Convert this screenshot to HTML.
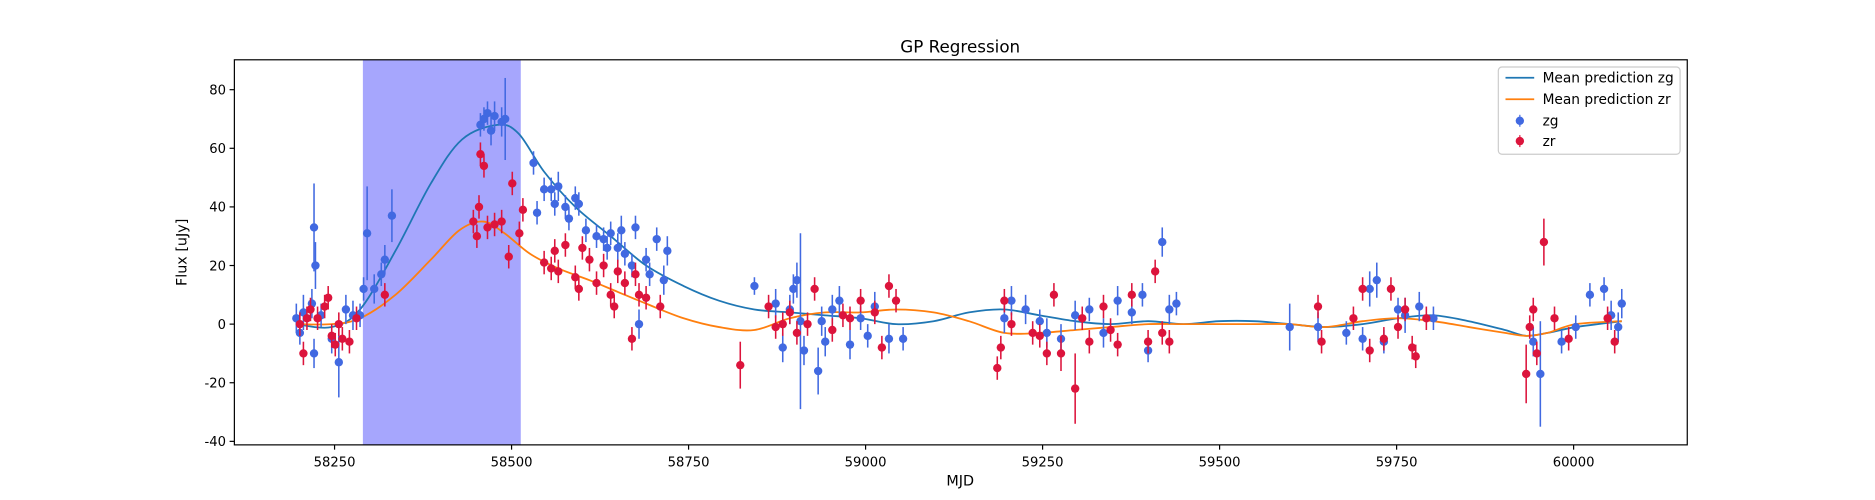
<!DOCTYPE html>
<html><head><meta charset="utf-8"><style>
body{margin:0;background:#fff;}
svg{display:block;}
svg text{font-family:"DejaVu Sans","Liberation Sans",sans-serif;fill:#000;}
</style></head><body>
<svg id="chart" width="1875" height="500" viewBox="0 0 1568 418.1" preserveAspectRatio="none" xmlns="http://www.w3.org/2000/svg">
<text x="803" y="44" font-size="14" text-anchor="middle">GP Regression</text>
<g id="plot"></g>
<text x="803" y="406" font-size="12" text-anchor="middle">MJD</text>
<text x="156" y="211" font-size="12" text-anchor="middle" transform="rotate(-90 156 211)">Flux [uJy]</text>
<g>
<rect x="1253" y="56" width="152" height="73" fill="#fff" stroke="#ccc" rx="3"/>
<line x1="1259" y1="65" x2="1283" y2="65" stroke="#1f77b4" stroke-width="1.5"/>
<text x="1290" y="69" font-size="11.5">Mean prediction zg</text>
<line x1="1259" y1="83" x2="1283" y2="83" stroke="#ff7f0e" stroke-width="1.5"/>
<text x="1290" y="87" font-size="11.5">Mean prediction zr</text>
<line x1="1271" y1="96" x2="1271" y2="106" stroke="#4169e1"/><circle cx="1271" cy="101" r="3.5" fill="#4169e1"/>
<text x="1290" y="105" font-size="11.5">zg</text>
<line x1="1271" y1="113" x2="1271" y2="123" stroke="#dc143c"/><circle cx="1271" cy="118" r="3.5" fill="#dc143c"/>
<text x="1290" y="122" font-size="11.5">zr</text>
</g>
</svg>
<script>
const xTicks=[58250,58500,58750,59000,59250,59500,59750,60000];
const yTicks=[-40,-20,0,20,40,60,80];
const spanStart=58290, spanEnd=58513;
const zgMJD=[58196,58201,58206,58218,58221,58223,58221,58231,58246,58256,58266,58276,58286,58291,58296,58306,58316,58321,58331,58456,58461,58466,58471,58476,58486,58491,58531,58536,58546,58556,58561,58566,58576,58581,58590,58595,58605,58620,58630,58635,58640,58650,58655,58660,58670,58675,58680,58690,58695,58705,58715,58720,58843,58873,58883,58893,58898,58903,58908,58913,58933,58938,58943,58953,58963,58978,58993,59003,59013,59033,59053,59196,59206,59226,59246,59256,59276,59296,59316,59336,59356,59376,59391,59399,59419,59429,59439,59599,59639,59679,59702,59712,59722,59732,59752,59762,59782,59802,59943,59953,59983,60003,60023,60043,60053,60063,60068];
const zgFlux=[2,-3,4,7,33,20,-10,3,-5,-13,5,3,3,12,31,12,17,22,37,68,70,72,66,71,69,70,55,38,46,46,41,47,40,36,43,41,32,30,29,26,31,26,32,24,20,33,0,22,17,29,15,25,13,7,-8,5,12,15,1,-9,-16,1,-6,5,8,-7,2,-4,6,-5,-5,2,8,5,1,-3,-5,3,5,-3,8,4,10,-9,28,5,7,-1,-1,-3,-5,12,15,-6,5,3,6,2,-6,-17,-6,-1,10,12,3,-1,7];
const zgErr=[5,4,6,5,15,8,5,4,5,12,5,5,4,4,16,5,4,5,9,4,4,4,5,5,5,14,4,4,4,4,4,5,4,4,4,4,4,4,4,4,4,5,5,4,4,4,5,4,4,4,5,5,3,5,5,5,5,6,30,5,8,5,5,5,5,5,4,4,5,5,4,5,5,5,4,5,5,5,4,5,5,4,4,4,5,5,4,8,5,4,4,6,6,4,4,6,5,4,5,18,4,4,4,4,5,5,5];
const zrMJD=[58201,58206,58211,58216,58226,58236,58241,58246,58251,58256,58261,58271,58281,58321,58446,58451,58454,58456,58461,58466,58476,58486,58496,58501,58511,58516,58546,58556,58561,58566,58576,58590,58595,58600,58610,58620,58630,58640,58645,58650,58660,58670,58675,58680,58690,58710,58823,58863,58873,58883,58893,58903,58918,58928,58953,58968,58978,58993,59013,59023,59033,59043,59186,59191,59196,59206,59236,59246,59256,59266,59276,59296,59306,59316,59336,59346,59356,59376,59399,59409,59419,59429,59639,59644,59689,59702,59712,59732,59742,59752,59762,59772,59777,59792,59933,59938,59943,59948,59958,59973,59993,60048,60058];
const zrFlux=[0,-10,2,5,2,6,9,-4,-7,0,-5,-6,2,10,35,30,40,58,54,33,34,35,23,48,31,39,21,19,25,18,27,16,12,26,22,14,20,10,6,18,14,-5,17,10,9,6,-14,6,-1,0,4,-3,0,12,-2,3,2,8,4,-8,13,8,-15,-8,8,0,-3,-4,-10,10,-10,-22,2,-6,6,-2,-7,10,-6,18,-3,-6,6,-6,2,12,-9,-5,12,-1,5,-8,-11,2,-17,-1,5,-10,28,2,-5,2,-6];
const zrErr=[4,4,4,4,4,4,4,4,4,4,4,4,4,4,4,4,4,4,4,4,4,4,4,4,4,4,4,4,4,4,4,4,4,4,4,4,4,4,4,4,4,4,4,4,4,4,8,4,4,4,4,4,4,4,4,4,4,4,4,4,4,4,4,4,4,4,4,4,4,4,6,12,4,4,4,4,4,4,4,4,4,4,4,4,4,4,4,4,4,4,4,4,4,4,10,4,4,4,8,4,4,4,4];
const zgCurveX=[58196,58246,58286,58336,58386,58430,58480,58510,58546,58590,58640,58690,58743,58793,58843,58893,58943,58993,59043,59096,59146,59196,59246,59296,59346,59399,59449,59499,59549,59599,59649,59702,59752,59802,59852,59903,59933,59963,60003,60068];
const zgCurveY=[0,-1,5,25,48,63,68,65,52,40,30,20,13,8,5,4,3,2,0,1,4,5,3,1,0,1,0,1,1,0,-1,0,2,3,1,-2,-4,-3,-1,1];
const zrCurveX=[58196,58246,58286,58336,58386,58426,58460,58490,58526,58566,58610,58650,58690,58743,58793,58843,58893,58943,58993,59043,59096,59146,59196,59246,59296,59346,59399,59449,59499,59549,59599,59649,59702,59752,59802,59852,59903,59933,59963,60003,60068];
const zrCurveY=[0,0,2,10,22,32,35,31,24,19,15,11,7,2,-1,-2,2,4,4,5,4,1,-3,-3,-2,-1,0,0,0,0,0,-1,1,2,1,-1,-3,-4,-3,0,1];
const L=196,R=1411,T=50,B=372,X0=58108.5,X1=60160.5,Y0=-41.2,Y1=90.2;
const sx=v=>L+(v-X0)/(X1-X0)*(R-L), sy=v=>B-(v-Y0)/(Y1-Y0)*(B-T);
const NS="http://www.w3.org/2000/svg", g=document.getElementById('plot');
function mk(t,a,p){const e=document.createElementNS(NS,t);for(const k in a)e.setAttribute(k,a[k]);(p||g).appendChild(e);return e;}
const span=mk('rect',{x:sx(spanStart),y:T,width:sx(spanEnd)-sx(spanStart),height:B-T,fill:'#a6a6fd'});


function curve(xs,ys,col,name){let d='';const P=xs.map((x,i)=>[sx(x),sy(ys[i])]);
d='M'+P[0][0]+','+P[0][1];
for(let i=0;i<P.length-1;i++){const p0=P[Math.max(i-1,0)],p1=P[i],p2=P[i+1],p3=P[Math.min(i+2,P.length-1)];
d+=` C${p1[0]+(p2[0]-p0[0])/6},${p1[1]+(p2[1]-p0[1])/6} ${p2[0]-(p3[0]-p1[0])/6},${p2[1]-(p3[1]-p1[1])/6} ${p2[0]},${p2[1]}`;}
const e=mk('path',{d:d,fill:'none',stroke:col,'stroke-width':1.5});

}
function pts(xs,ys,es,col,name){const gg=mk('g',{});


xs.forEach((x,i)=>{mk('line',{x1:sx(x),x2:sx(x),y1:sy(ys[i]-es[i]),y2:sy(ys[i]+es[i]),stroke:col,'stroke-width':1.3},gg);
const c=mk('circle',{cx:sx(x),cy:sy(ys[i]),r:3.5,fill:col},gg);

});}
curve(zgCurveX,zgCurveY,'#1f77b4','mean-prediction-zg');
curve(zrCurveX,zrCurveY,'#ff7f0e','mean-prediction-zr');
pts(zgMJD,zgFlux,zgErr,'#4169e1','zg-series');
pts(zrMJD,zrFlux,zrErr,'#dc143c','zr-series');
mk('rect',{x:L,y:T,width:R-L,height:B-T,fill:'none',stroke:'#000','stroke-width':1});
xTicks.forEach(v=>{mk('line',{x1:sx(v),x2:sx(v),y1:B,y2:B+4,stroke:'#000'});
const t=mk('text',{x:sx(v),y:B+18,'font-size':11,'text-anchor':'middle'});t.textContent=v;

});
yTicks.forEach(v=>{mk('line',{x1:L-4,x2:L,y1:sy(v),y2:sy(v),stroke:'#000'});
const t=mk('text',{x:L-7,y:sy(v)+4,'font-size':11,'text-anchor':'end'});t.textContent=v;

});
</script>
</body></html>
